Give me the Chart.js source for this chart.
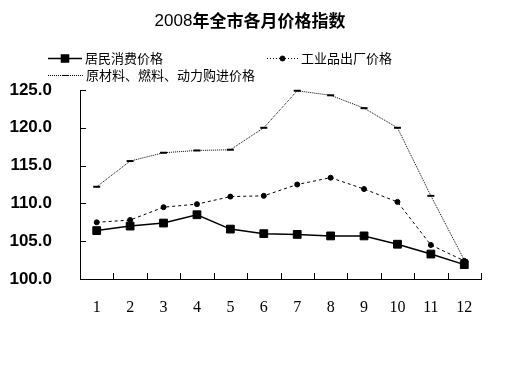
<!DOCTYPE html>
<html>
<head>
<meta charset="utf-8">
<script src="https://cdn.jsdelivr.net/npm/chart.js@4/dist/chart.umd.min.js"></script>
<style>
  html, body { margin: 0; padding: 0; background: #fff; }
  #wrap { width: 512px; height: 384px; }
</style>
</head>
<body>
<div id="wrap"><canvas id="priceChart" width="512" height="384"></canvas></div>
<script>
const months = ['1', '2', '3', '4', '5', '6', '7', '8', '9', '10', '11', '12'];
const consumerPrice = [106.4, 107.0, 107.4, 108.5, 106.6, 106.0, 105.9, 105.7, 105.7, 104.6, 103.3, 101.9];
const producerPrice = [107.5, 107.8, 109.5, 109.9, 110.9, 111.0, 112.5, 113.4, 111.9, 110.2, 104.5, 102.4];
const materialPrice = [112.2, 115.6, 116.7, 117.0, 117.1, 120.0, 124.9, 124.3, 122.6, 120.0, 111.0, 102.5];
const seriesNames = ['居民消费价格', '工业品出厂价格', '原材料、燃料、动力购进价格'];
const yTicks = [100, 105, 110, 115, 120, 125];

const cjk = '"Noto Sans CJK SC", sans-serif';

// title, legend and the inward tick marks are drawn by hand
const decorations = {
    id: 'decorations',
    afterDraw(chart) {
        const ctx = chart.ctx;
        const area = chart.chartArea;
        const x = chart.scales.x;
        const y = chart.scales.y;
        ctx.save();

        // title
        ctx.fillStyle = '#000';
        ctx.textBaseline = 'middle';
        ctx.font = '17px "Liberation Sans", Arial, sans-serif';
        const yearW = ctx.measureText('2008').width;
        ctx.font = 'bold 17px ' + cjk;
        const restW = ctx.measureText('年全市各月价格指数').width;
        let tx = 250 - (yearW + restW) / 2;
        ctx.font = '17px "Liberation Sans", Arial, sans-serif';
        ctx.fillText('2008', tx, 21);
        ctx.font = 'bold 17px ' + cjk;
        ctx.fillText('年全市各月价格指数', tx + yearW, 21);

        // tick marks pointing into the plot
        ctx.strokeStyle = '#000';
        ctx.lineWidth = 1;
        ctx.beginPath();
        yTicks.forEach(v => {
            const py = Math.round(y.getPixelForValue(v)) + 0.5;
            ctx.moveTo(area.left, py);
            ctx.lineTo(area.left + 6, py);
        });
        for (let i = 0; i < months.length; i++) {
            let px = i < months.length - 1
                ? (x.getPixelForTick(i) + x.getPixelForTick(i + 1)) / 2
                : area.right;
            px = Math.round(px) + 0.5;
            ctx.moveTo(px, area.bottom);
            ctx.lineTo(px, area.bottom - 6);
        }
        ctx.stroke();

        // legend
        const items = [
            { ds: 0, x0: 48, x1: 82, ty: 58 },
            { ds: 1, x0: 267, x1: 298, ty: 58 },
            { ds: 2, x0: 48, x1: 83, ty: 75 }
        ];
        items.forEach(it => {
            const ds = chart.data.datasets[it.ds];
            ctx.save();
            ctx.strokeStyle = '#000';
            ctx.lineWidth = ds.borderWidth;
            ctx.setLineDash(ds.legendDash || []);
            ctx.beginPath();
            ctx.moveTo(it.x0, it.ty + 0.5);
            ctx.lineTo(it.x1, it.ty + 0.5);
            ctx.stroke();
            ctx.setLineDash([]);
            Chart.helpers.drawPoint(ctx, {
                pointStyle: ds.pointStyle,
                radius: ds.legendRadius,
                borderWidth: ds.pointBorderWidth || 1,
                rotation: 0
            }, (it.x0 + it.x1) / 2, it.ty + 0.5);
            ctx.restore();
            ctx.fillStyle = '#000';
            ctx.font = '13px ' + cjk;
            ctx.textBaseline = 'middle';
            ctx.fillText(ds.label, it.x1 + 3, it.ty);
        });

        ctx.restore();
    }
};

new Chart(document.getElementById('priceChart'), {
    type: 'line',
    data: {
        labels: months,
        datasets: [
            {
                label: seriesNames[0],
                data: consumerPrice,
                borderColor: '#000',
                backgroundColor: '#000',
                borderWidth: 1.5,
                pointStyle: 'rect',
                pointRadius: 5.5,
                pointBorderWidth: 1,
                legendRadius: 5,
                tension: 0
            },
            {
                label: seriesNames[1],
                data: producerPrice,
                borderColor: '#000',
                backgroundColor: '#000',
                borderWidth: 1,
                borderDash: [3, 3],
                legendDash: [1, 2],
                pointStyle: 'circle',
                pointRadius: 2.5,
                pointBorderWidth: 1,
                legendRadius: 2.5,
                tension: 0
            },
            {
                label: seriesNames[2],
                data: materialPrice,
                borderColor: '#000',
                backgroundColor: '#000',
                borderWidth: 1,
                borderDash: [1, 1],
                legendDash: [1, 1],
                pointStyle: 'line',
                pointRadius: 3.5,
                pointBorderWidth: 2,
                legendRadius: 3.5,
                tension: 0
            }
        ]
    },
    options: {
        responsive: false,
        animation: false,
        clip: false,
        layout: { padding: { top: 90, right: 31, left: 0, bottom: 0 } },
        plugins: {
            legend: { display: false },
            title: { display: false },
            tooltip: { enabled: false }
        },
        scales: {
            x: {
                type: 'category',
                offset: true,
                grid: { display: false },
                border: { display: true, color: '#000', width: 1 },
                ticks: {
                    color: '#000',
                    padding: 11,
                    maxRotation: 0,
                    autoSkip: false,
                    font: { family: '"Liberation Serif", "DejaVu Serif", serif', size: 16 }
                },
                afterFit(scale) { scale.height = 105; }
            },
            y: {
                min: 100,
                max: 125,
                afterBuildTicks(scale) { scale.ticks = yTicks.map(v => ({ value: v })); },
                grid: { display: false },
                border: { display: true, color: '#000', width: 1 },
                ticks: {
                    color: '#000',
                    padding: 20,
                    font: { family: '"Liberation Sans", Arial, sans-serif', size: 17, weight: 'bold' },
                    callback: v => Number(v).toFixed(1)
                },
                afterFit(scale) { scale.width = 80; }
            }
        }
    },
    plugins: [decorations]
});
</script>
</body>
</html>
